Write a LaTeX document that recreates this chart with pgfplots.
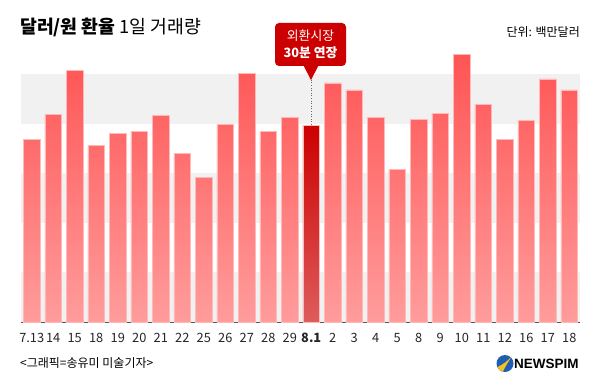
\documentclass[border=0pt]{standalone}
\usepackage{pgfplots}
\pgfplotsset{compat=1.18}
\usepackage{fontspec}
\setmainfont{Noto Sans CJK KR}
\newfontfamily\logofont{Liberation Sans}
\definecolor{barTop}{RGB}{255,84,84}
\definecolor{barBot}{RGB}{255,156,156}
\definecolor{barEdge}{RGB}{255,185,185}
\definecolor{hiTop}{RGB}{204,0,0}
\definecolor{hiBot}{RGB}{222,92,92}
\definecolor{band}{RGB}{241,241,241}
\definecolor{callred}{RGB}{204,0,0}
\definecolor{logoblue}{RGB}{30,95,180}
\definecolor{logoyellow}{RGB}{250,190,30}
\begin{document}
\begin{tikzpicture}[x=1pt,y=1pt]
\path[fill=white,use as bounding box] (0,0) rectangle (600,389);
\begin{axis}[
  at={(21pt,67pt)}, anchor=south west,
  scale only axis, width=559pt, height=248pt,
  xmin=-0.5, xmax=25.5, ymin=0, ymax=250,
  clip=false,
  axis y line=none, axis x line*=bottom,
  x axis line style={-, draw=black!65, line width=0.8pt},
  ytick=\empty,
  xtick={0,...,25},
  xticklabels={7.13,14,15,18,19,20,21,22,25,26,27,28,29,\textbf{8.1},2,3,4,5,8,9,10,11,12,16,17,18},
  major tick length=0pt,
  xticklabel style={font=\fontsize{12.8}{14}\selectfont, text=black!85, anchor=center, yshift=-16pt},
]
\fill[band] (axis cs:-0.5,200) rectangle (axis cs:25.5,250);
\fill[band] (axis cs:-0.5,100) rectangle (axis cs:25.5,150);
\fill[band] (axis cs:-0.5,0) rectangle (axis cs:25.5,50);
\addplot[ybar, bar width=0.78, bar shift=0pt, draw=barEdge, line width=0.6pt, top color=barTop, bottom color=barBot]
coordinates {(0,184) (1,209) (2,254) (3,178) (4,190) (5,192) (6,208) (7,170) (8,146) (9,199) (10,251) (11,192) (12,206)
 (14,241) (15,234) (16,206) (17,154) (18,204) (19,210) (20,270) (21,219) (22,184) (23,203) (24,245) (25,234)};
\addplot[ybar, bar width=0.78, bar shift=0pt, draw=barEdge, line width=0.6pt, top color=hiTop, bottom color=hiBot]
coordinates {(13,198)};
\draw[dotted, black!60, line width=0.6pt] (axis cs:13,199) -- (axis cs:13,244);
\end{axis}
% callout
\fill[callred, rounded corners=4pt] (275,323) rectangle (346,366);
\fill[callred] (303.5,323.5) -- (318.5,323.5) -- (311,309) -- cycle;
\node[text=white, font=\fontsize{12.8}{14}\selectfont] at (310.5,353) {외환시장};
\node[text=white, font=\bfseries\fontsize{12.8}{14}\selectfont] at (310.5,336) {30분 연장};
% title
\node[anchor=west, inner sep=0pt, font=\fontsize{18.3}{21}\selectfont] at (20,362) {\textbf{달러/원 환율} 1일 거래량};
\node[anchor=east, inner sep=0pt, font=\fontsize{12}{14}\selectfont] at (580,357) {단위: 백만달러};
% footer
\node[anchor=west, inner sep=0pt, font=\fontsize{12}{14}\selectfont] at (20,26) {<그래픽=송유미 미술기자>};
\fill[logoblue] (505,25.5) circle (8.5);
\fill[logoyellow] (497.5,22) .. controls (502,24) and (508,28) .. (512,33) .. controls (508,27) and (504,20) .. (503,17.5) .. controls (500,18) and (498,20) .. (497.5,22) -- cycle;
\node[anchor=west, inner sep=0pt, font=\logofont\bfseries\fontsize{13.5}{15}\selectfont] at (514,25.5) {NEWSPIM};
\end{tikzpicture}
\end{document}
